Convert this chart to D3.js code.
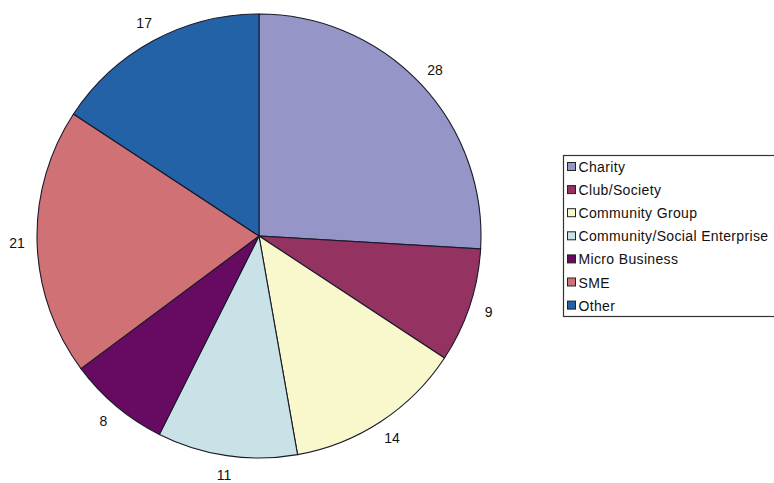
<!DOCTYPE html>
<html>
<head>
<meta charset="utf-8">
<script src="https://cdn.jsdelivr.net/npm/d3@7"></script>
<style>
  body { margin: 0; background: #fff; }
  svg { display: block; }
  text { font-family: Arial, "Liberation Sans", sans-serif; }
</style>
</head>
<body>
<script>
var categories = ["Charity", "Club/Society", "Community Group", "Community/Social Enterprise", "Micro Business", "SME", "Other"];
var values = [28, 9, 14, 11, 8, 21, 17];
var colours = ["#9595c8", "#943262", "#f9f7cc", "#c9e2e8", "#660a62", "#d07275", "#2462a8"];

var width = 774, height = 483;
var cx = 259, cy = 236, radius = 222, labelRadius = 242;

var svg = d3.select("body").append("svg")
    .attr("width", width)
    .attr("height", height);

var pie = d3.pie()
    .sort(null)
    .value(function (d) { return d; });

var arc = d3.arc()
    .innerRadius(0)
    .outerRadius(radius);

var labelArc = d3.arc()
    .innerRadius(labelRadius)
    .outerRadius(labelRadius);

var slices = pie(values);

var g = svg.append("g")
    .attr("transform", "translate(" + cx + "," + cy + ")");

g.selectAll(".slice")
    .data(slices)
    .enter().append("path")
    .attr("class", "slice")
    .attr("d", arc)
    .attr("fill", function (d, i) { return colours[i]; })
    .attr("stroke", "#1a1a2a")
    .attr("stroke-width", 1.1);

g.selectAll(".label")
    .data(slices)
    .enter().append("text")
    .attr("class", "label")
    .attr("transform", function (d) {
        return "translate(" + labelArc.centroid(d) + ")";
    })
    .attr("text-anchor", "middle")
    .attr("dy", "0.35em")
    .attr("font-size", 14)
    .attr("fill", "#111")
    .text(function (d) { return d.data; });

// legend
var legend = svg.append("g")
    .attr("transform", "translate(563,155)");

legend.append("rect")
    .attr("x", 0.5)
    .attr("y", 0.5)
    .attr("width", 240)
    .attr("height", 161)
    .attr("fill", "#fff")
    .attr("stroke", "#333")
    .attr("stroke-width", 1.2);

var item = legend.selectAll(".item")
    .data(categories)
    .enter().append("g")
    .attr("class", "item")
    .attr("transform", function (d, i) {
        return "translate(0," + (12 + i * 23.1) + ")";
    });

item.append("rect")
    .attr("x", 4.5)
    .attr("y", -4.5)
    .attr("width", 8)
    .attr("height", 8)
    .attr("fill", function (d, i) { return colours[i]; })
    .attr("stroke", "#222")
    .attr("stroke-width", 1);

item.append("text")
    .attr("x", 15.5)
    .attr("dy", "0.36em")
    .attr("font-size", 14)
    .attr("letter-spacing", 0.35)
    .attr("fill", "#111")
    .text(function (d) { return d; });
</script>
</body>
</html>
